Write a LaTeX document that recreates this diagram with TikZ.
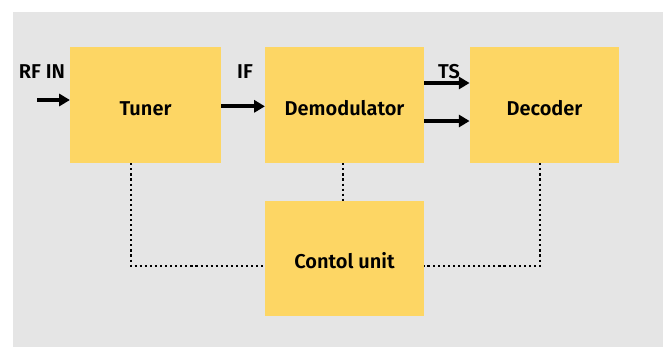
\documentclass[tikz,border=0pt]{standalone}
\usepackage{fontspec}
\setmainfont{Fira Sans}[BoldFont={Fira Sans SemiBold}]
\usetikzlibrary{arrows.meta,positioning}
\definecolor{boxyellow}{RGB}{253,214,100}
\definecolor{backgray}{RGB}{229,229,229}
\tikzset{
    bloc/.style={fill=boxyellow,minimum height=87pt,text height=19pt,text depth=4pt,
                 font=\fontsize{15}{18}\selectfont\bfseries},
    fleche/.style={line width=3pt,-{Triangle[length=8pt,width=9pt]}},
    liaison/.style={line width=1.5pt,dash pattern=on 1.6pt off 2.2pt},
    etiq/.style={font=\fontsize{15}{18}\selectfont\bfseries}
}
\begin{document}
\begin{tikzpicture}[x=0.75pt,y=-0.75pt]
\useasboundingbox (0,0) rectangle (670,347);
\fill[backgray] (13,12) rectangle (663,347);
% les blocs
\node[bloc,minimum width=113pt] (tuner) at (145.5,105) {Tuner};
\node[bloc,minimum width=119pt] (demod) at (344.5,105) {Demodulator};
\node[bloc,minimum width=112pt] (decoder) at (544.5,105) {Decoder};
\node[bloc,minimum width=119pt,minimum height=86pt] (ctrl) at (344.5,258.5) {Contol unit};
% etiquettes
\node[etiq] (rfin) at (42,72) {RF IN};
\node[etiq] (if) at (245,72) {IF};
\node[etiq] (ts) at (449,72) {TS};
% signaux
\coordinate (entree) at (37,100);
\draw[fleche] (entree) -- (entree -| tuner.west);
\draw[fleche] ([yshift=-1pt]tuner.east) -- ([yshift=-1pt]demod.west);
\draw[fleche] ([yshift=16.5pt]demod.east) -- ([yshift=16.5pt]decoder.west);
\draw[fleche] ([yshift=-12pt]demod.east) -- ([yshift=-12pt]decoder.west);
% commande
\draw[liaison] ([xshift=-11pt]tuner.south) |- ([yshift=-5.5pt]ctrl.west);
\draw[liaison] ([xshift=-1pt]demod.south) -- ([xshift=-1pt]ctrl.north);
\draw[liaison] ([xshift=-3.5pt]decoder.south) |- ([yshift=-5.5pt]ctrl.east);
\end{tikzpicture}
\end{document}
